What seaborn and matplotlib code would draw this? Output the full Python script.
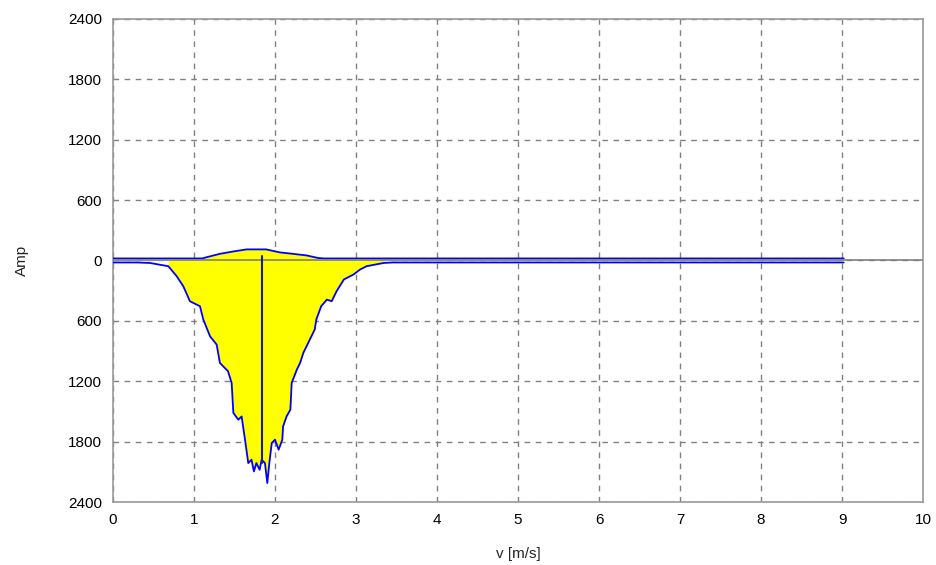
import numpy as np
import pandas as pd
import matplotlib
matplotlib.use("Agg")
import matplotlib.pyplot as plt
import seaborn as sns
from matplotlib.ticker import FuncFormatter

# ---- data ----
lower_v = [0.0, 0.30, 0.457, 0.683, 0.786, 0.868, 0.95, 1.074, 1.115, 1.198, 1.28, 1.32,
           1.42, 1.465, 1.486, 1.547, 1.588, 1.63, 1.67, 1.71, 1.74, 1.77, 1.81, 1.835,
           1.876, 1.905, 1.93, 1.96, 2.0, 2.045, 2.09, 2.10, 2.144, 2.19, 2.206, 2.27,
           2.31, 2.35, 2.43, 2.49, 2.51, 2.57, 2.64, 2.70, 2.76, 2.85, 2.97, 3.05, 3.13,
           3.34, 3.45, 9.02]
lower_amp = [-20, -20, -25, -57, -156, -256, -405, -455, -587, -753, -836, -1018,
             -1101, -1217, -1515, -1582, -1550, -1781, -2013, -1980, -2096, -2013, -2080, -1980,
             -2013, -2212, -2013, -1814, -1781, -1880, -1781, -1648, -1548, -1482, -1217, -1084,
             -1018, -918, -786, -687, -587, -455, -389, -405, -306, -189, -139, -90, -57,
             -25, -20, -20]
upper_v = [0.0, 1.10, 1.16, 1.32, 1.49, 1.65, 1.89, 2.06, 2.22, 2.39, 2.53, 2.60, 9.02]
upper_amp = [20, 20, 33, 66, 90, 110, 110, 80, 66, 50, 25, 20, 20]
fill_start, fill_end = 0.683, 3.34
spike_v = [1.84, 1.84]
spike_amp = [45, -2010]
y_ticks = [-2400, -1800, -1200, -600, 0, 600, 1200, 1800, 2400]
x_ticks = [0, 1, 2, 3, 4, 5, 6, 7, 8, 9, 10]

sns.set_theme(style="white")
plt.rcParams['font.family'] = ['Liberation Sans', 'DejaVu Sans']

fig = plt.figure(figsize=(9.36, 5.65), dpi=100)
ax = fig.add_axes([0.1207, 0.1115, 0.8655, 0.855])

low = pd.DataFrame({"v": lower_v, "amp": lower_amp})
up = pd.DataFrame({"v": upper_v, "amp": upper_amp})
lv = np.array(lower_v)
ax.fill_between(lv, np.array(lower_amp), 0, where=(lv >= fill_start) & (lv <= fill_end),
                color="#ffff00", linewidth=0, zorder=2)
ax.fill_between(np.array(upper_v), np.array(upper_amp), 0, color="#ffff00", linewidth=0,
                zorder=2)

sns.lineplot(data=low, x="v", y="amp", sort=False, estimator=None, color="#0000ff",
             linewidth=1.3, ax=ax, zorder=3)
sns.lineplot(data=up, x="v", y="amp", sort=False, estimator=None, color="#0000ff",
             linewidth=1.3, ax=ax, zorder=3)
ax.axhline(0, color="#808080", linewidth=1.2, zorder=4)
sns.lineplot(x=spike_v, y=spike_amp, sort=False, estimator=None, color="#1a1a9a",
             linewidth=1.5, ax=ax, zorder=5)

ax.set_xlim(0, 10)
ax.set_ylim(-2400, 2400)
ax.set_xticks(x_ticks)
ax.set_yticks(y_ticks)
ax.yaxis.set_major_formatter(FuncFormatter(lambda v, p: f"{abs(int(v))}"))
ax.grid(True, color="#808080", linestyle=(0, (4, 4)), linewidth=1.0)
for s in ax.spines.values():
    s.set_color("#999999")
    s.set_linewidth(1.2)
ax.tick_params(axis="both", labelsize=11, colors="#808080", labelcolor="black",
               length=0, pad=8)
ax.set_xlabel("v [m/s]", fontsize=11, labelpad=14)
ax.set_ylabel("Amp", fontsize=11, labelpad=28)

fig.savefig("out.png", dpi=100)
